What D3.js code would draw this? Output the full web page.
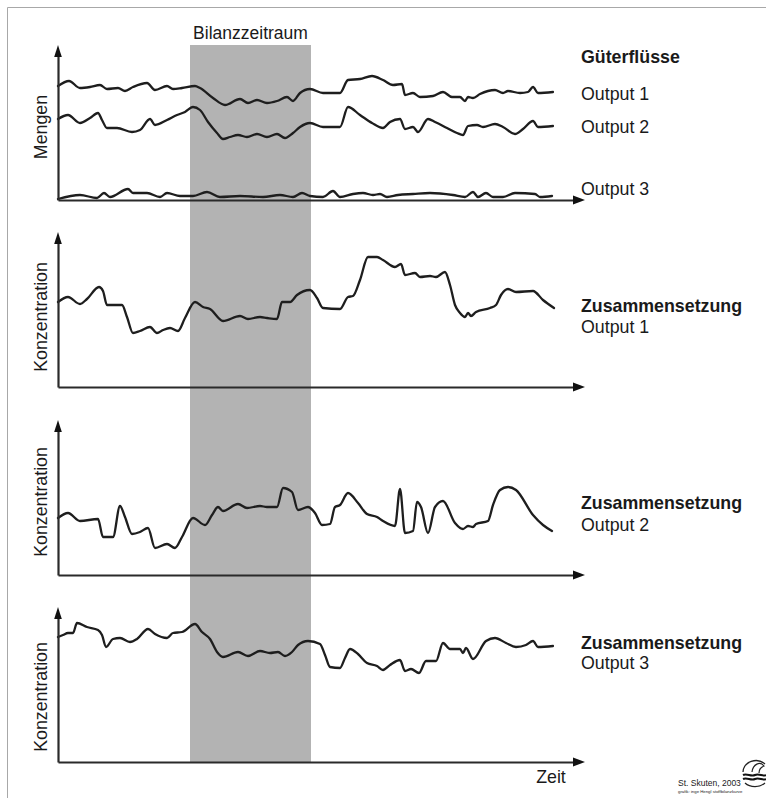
<!DOCTYPE html>
<html><head><meta charset="utf-8">
<script src="https://cdn.jsdelivr.net/npm/d3@7"></script>
<style>
body{margin:0;background:#fff}
svg{display:block}
text{font-family:"Liberation Sans",Arial,Helvetica,sans-serif;fill:#1a1a1a}
</style>
</head><body>
<svg id="c" width="766" height="798"></svg>
<script>
// ---------- DATA (time, value) ----------
const timeDomain = [0, 520];
const valueDomain = [0, 148];
const bandPeriod = [132, 253];
const bandLabel = "Bilanzzeitraum";
const xLabel = "Zeit";
const yTitles = ["Mengen", "Konzentration", "Konzentration", "Konzentration"];
const panelTitles = ["Güterflüsse", "Zusammensetzung", "Zusammensetzung", "Zusammensetzung"];
const outputNames = ["Output 1", "Output 2", "Output 3"];

// Güterflüsse (Mengen)
const mengeOutput1 = [[0,114],[11,119],[22,112],[32,113],[42,115],[49,111],[60,112],[67,109],[75,113],[89,117],[97,110],[109,114],[115,111],[124,112],[137,114],[142,112],[155,102],[167,95],[182,101],[190,97],[199,100],[209,97],[219,99],[229,103],[235,99],[242,107],[252,111],[265,107],[282,107],[290,120],[302,121],[314,124],[325,120],[335,115],[344,116],[347,105],[355,107],[362,103],[375,104],[385,108],[394,103],[402,103],[407,99],[410,103],[415,102],[422,106],[437,110],[445,107],[450,109],[462,107],[470,108],[475,113],[480,107],[495,108]];
const mengeOutput2 = [[0,81],[10,85],[22,77],[32,82],[40,87],[44,80],[49,72],[59,72],[74,68],[82,70],[92,81],[97,75],[109,80],[119,85],[127,88],[135,93],[142,90],[150,78],[159,67],[165,61],[172,63],[180,65],[189,63],[199,66],[209,63],[219,66],[227,62],[235,67],[242,73],[252,77],[265,73],[282,73],[290,93],[302,85],[314,77],[325,72],[332,78],[342,81],[347,71],[355,73],[360,68],[370,81],[377,78],[389,72],[399,67],[405,65],[410,74],[419,75],[425,73],[437,76],[445,73],[457,66],[465,71],[475,79],[480,73],[495,74]];
const mengeOutput3 = [[0,1],[22,5],[39,2],[46,7],[52,3],[70,11],[75,7],[89,7],[102,3],[109,7],[122,4],[135,4],[149,8],[162,3],[182,4],[205,3],[222,5],[235,3],[244,7],[252,4],[265,3],[275,9],[282,3],[295,6],[305,7],[315,5],[322,6],[329,3],[340,5],[355,6],[372,7],[395,5],[407,3],[415,8],[420,3],[428,7],[435,3],[445,3],[457,7],[477,6],[482,3],[494,4]];

// Zusammensetzung (Konzentration)
const konzOutput1 = [[0,85],[10,90],[22,83],[29,88],[41,100],[45,96],[49,82],[64,82],[69,70],[75,54],[82,56],[92,60],[99,54],[105,57],[112,59],[120,56],[127,69],[137,85],[145,80],[152,78],[165,66],[182,71],[190,68],[202,70],[209,69],[219,68],[224,85],[232,85],[239,92],[252,97],[259,89],[265,79],[282,78],[290,90],[295,91],[302,107],[310,130],[319,130],[325,127],[337,120],[343,123],[347,112],[357,114],[362,110],[372,111],[378,110],[387,115],[392,102],[397,82],[402,74],[407,70],[410,74],[413,71],[418,75],[432,79],[438,82],[443,92],[450,98],[458,95],[475,96],[485,87],[496,79]];
const konzOutput2 = [[0,57],[10,62],[22,54],[40,56],[45,38],[55,38],[62,69],[67,58],[74,41],[82,43],[90,47],[97,27],[109,31],[117,27],[124,38],[135,57],[147,50],[154,60],[160,68],[165,64],[180,71],[189,67],[202,69],[209,68],[219,68],[225,87],[234,83],[240,65],[250,68],[257,62],[264,50],[272,51],[277,68],[282,70],[290,82],[300,72],[309,61],[319,58],[325,54],[337,49],[342,86],[347,42],[355,44],[359,73],[363,68],[370,42],[377,68],[385,74],[397,52],[405,46],[410,49],[415,48],[418,51],[430,54],[435,70],[442,85],[450,88],[458,85],[475,60],[485,50],[494,44]];
const konzOutput3 = [[0,125],[5,127],[10,129],[15,129],[19,139],[29,135],[40,132],[44,127],[48,115],[55,123],[62,124],[72,120],[79,123],[90,133],[97,128],[109,124],[115,129],[124,130],[137,138],[144,130],[152,123],[159,110],[165,105],[180,110],[190,106],[202,111],[212,109],[220,110],[227,106],[234,110],[240,117],[250,121],[262,118],[267,107],[272,95],[282,94],[287,104],[292,113],[300,108],[309,99],[319,96],[325,92],[332,97],[342,102],[347,91],[353,93],[361,89],[368,101],[378,101],[385,119],[392,113],[402,113],[405,109],[408,114],[415,103],[428,121],[437,124],[448,119],[458,115],[468,117],[475,121],[480,115],[495,116]];

const creditText = "St. Skuten, 2003";
const creditSub = "grafik: inge Hengl stoffbilanzkurve";

// ---------- LAYOUT ----------
const svg = d3.select("#c");
const x = d3.scaleLinear().domain(timeDomain).range([58, 578]);
const panelAxisY = [200, 387, 575, 762];
const titleCenterY = [127, 317, 502, 697];
const FS = 17.8;

const panels = [
  {series: [mengeOutput1, mengeOutput2, mengeOutput3],
   labels: [{t: panelTitles[0], y: 63, bold: true}, {t: outputNames[0], y: 100}, {t: outputNames[1], y: 133}, {t: outputNames[2], y: 195}]},
  {series: [konzOutput1],
   labels: [{t: panelTitles[1], y: 312, bold: true}, {t: outputNames[0], y: 333}]},
  {series: [konzOutput2],
   labels: [{t: panelTitles[2], y: 509, bold: true}, {t: outputNames[1], y: 531}]},
  {series: [konzOutput3],
   labels: [{t: panelTitles[3], y: 649, bold: true}, {t: outputNames[2], y: 669}]}
];

// frame
svg.append("path").attr("d", "M7.5,798V7.5H766").attr("fill", "none").attr("stroke", "#a8a8a8").attr("stroke-width", 1);

// band
svg.append("rect")
  .attr("x", x(bandPeriod[0])).attr("width", x(bandPeriod[1]) - x(bandPeriod[0]))
  .attr("y", 45).attr("height", panelAxisY[3] - 45)
  .attr("fill", "#b3b3b3");
svg.append("text").attr("x", (x(bandPeriod[0]) + x(bandPeriod[1])) / 2).attr("y", 39)
  .attr("text-anchor", "middle").attr("font-size", 17.5).text(bandLabel);

panels.forEach((p, i) => {
  const ay = panelAxisY[i];
  const y = d3.scaleLinear().domain(valueDomain).range([ay, ay - 148]);
  const g = svg.append("g");

  const line = d3.line().x(d => x(d[0])).y(d => y(d[1])).curve(d3.curveMonotoneX);
  p.series.forEach(s => {
    g.append("path").datum(s).attr("d", line)
      .attr("fill", "none").attr("stroke", "#1e1e1e").attr("stroke-width", 2.3)
      .attr("stroke-linejoin", "round").attr("stroke-linecap", "round");
  });

  const xa = g.append("g").attr("transform", `translate(0,${ay})`)
    .call(d3.axisBottom(x).ticks(0).tickSizeOuter(0));
  const ya = g.append("g").attr("transform", `translate(${x(timeDomain[0])},0)`)
    .call(d3.axisLeft(y).ticks(0).tickSizeOuter(0));
  [xa, ya].forEach(a => a.select(".domain").attr("stroke", "#2a2a2a").attr("stroke-width", 2.2));

  const xe = x(timeDomain[1]);
  g.append("path").attr("d", `M${xe + 7},${ay}L${xe - 5},${ay - 4.5}L${xe - 5},${ay + 4.5}Z`).attr("fill", "#111");
  const x0 = x(timeDomain[0]);
  const yt = y(valueDomain[1]);
  g.append("path").attr("d", `M${x0},${yt - 7}L${x0 - 3.8},${yt + 5}L${x0 + 3.8},${yt + 5}Z`).attr("fill", "#111");

  svg.append("text").attr("transform", `translate(47,${titleCenterY[i]}) rotate(-90)`)
    .attr("text-anchor", "middle").attr("font-size", FS).text(yTitles[i]);

  p.labels.forEach(l => {
    svg.append("text").attr("x", 581).attr("y", l.y).attr("font-size", FS)
      .attr("font-weight", l.bold ? "bold" : "normal").text(l.t);
  });
});

svg.append("text").attr("x", 551).attr("y", 783).attr("text-anchor", "middle")
  .attr("font-size", FS).text(xLabel);

svg.append("text").attr("x", 678).attr("y", 786).attr("font-size", 8.5).attr("fill", "#333").text(creditText);
svg.append("text").attr("x", 678).attr("y", 793).attr("font-size", 4.3).attr("fill", "#555").text(creditSub);

const logo = svg.append("g").attr("transform", "translate(755,773)");
logo.append("path").attr("d", "M-12,-1 A13,12 0 0 1 10,-9").attr("fill", "none").attr("stroke", "#222").attr("stroke-width", 1.3);
logo.append("path").attr("d", "M-3,-1 C-2,-9 5,-12 9,-7 C6,-6 4,-3 4,0").attr("fill", "none").attr("stroke", "#222").attr("stroke-width", 1.2);
logo.append("path").attr("d", "M-12,2 C-8,0 -4,4 0,2 C4,0 8,4 12,2").attr("fill", "none").attr("stroke", "#111").attr("stroke-width", 2);
logo.append("path").attr("d", "M-12,6 C-8,4 -4,8 0,6 C4,4 8,8 12,6").attr("fill", "none").attr("stroke", "#111").attr("stroke-width", 2);
logo.append("path").attr("d", "M-10,10 A13,10 0 0 0 10,10").attr("fill", "none").attr("stroke", "#222").attr("stroke-width", 1.2);
</script>
</body></html>
